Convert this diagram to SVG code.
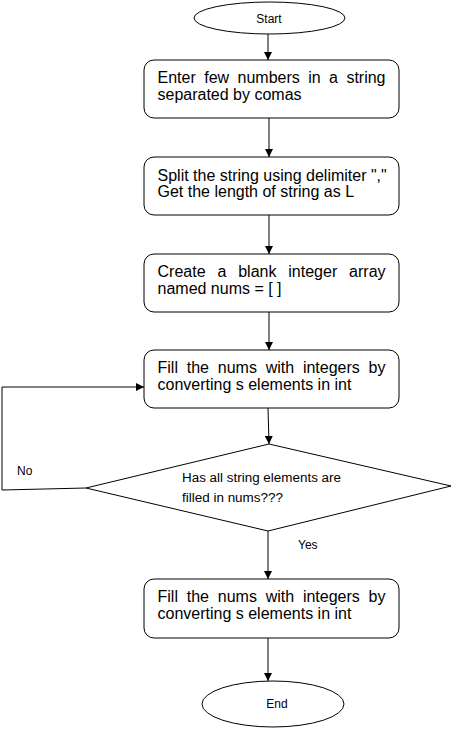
<svg xmlns="http://www.w3.org/2000/svg" width="454" height="729" viewBox="0 0 454 729">
<style>
.s{fill:#fff;stroke:#000;stroke-width:1}
.t{font-family:"Liberation Sans",Arial,sans-serif;font-size:16px;fill:#000}
.c{font-family:"Liberation Sans",Arial,sans-serif;font-size:12px;fill:#000}
.l{fill:none;stroke:#000;stroke-width:1}
</style>
<defs>
<marker id="a" viewBox="0 0 10 10" refX="10" refY="5" markerWidth="8" markerHeight="8" markerUnits="userSpaceOnUse" orient="auto">
<path d="M0,0 L10,5 L0,10 Z" fill="#000"/>
</marker>
</defs>
<rect width="454" height="729" fill="#fff"/>
<g id="connectors">
<line class="l" x1="268" y1="34" x2="268" y2="60" marker-end="url(#a)"/>
<line class="l" x1="269" y1="118" x2="269" y2="157" marker-end="url(#a)"/>
<line class="l" x1="269" y1="215" x2="269" y2="254" marker-end="url(#a)"/>
<line class="l" x1="269" y1="312" x2="269" y2="350" marker-end="url(#a)"/>
<line class="l" x1="268" y1="408" x2="269" y2="444" marker-end="url(#a)"/>
<polyline class="l" points="86,488 2,490 2,387 144,387" marker-end="url(#a)"/>
<line class="l" x1="268" y1="531" x2="268" y2="579" marker-end="url(#a)"/>
<line class="l" x1="268" y1="638" x2="268" y2="681" marker-end="url(#a)"/>
<text class="c" x="17" y="475">No</text>
<text class="c" x="298" y="549">Yes</text>
</g>
<g id="start">
<ellipse class="s" cx="269.5" cy="18" rx="75.5" ry="16"/>
<text class="c" x="269" y="23" text-anchor="middle">Start</text>
</g>
<g id="input">
<rect class="s" x="144" y="60" width="255" height="58" rx="10"/>
<text class="t" y="83"><tspan x="157.5">Enter</tspan><tspan x="204.2">few</tspan><tspan x="237.5">numbers</tspan><tspan x="308.2">in</tspan><tspan x="329.1">a</tspan><tspan x="346.4">string</tspan></text>
<text class="t" x="157.5" y="99.5">separated by comas</text>
</g>
<g id="split">
<rect class="s" x="144" y="157" width="255" height="58" rx="10"/>
<text class="t" x="157.5" y="180.5">Split the string using delimiter ","</text>
<text class="t" x="157.5" y="197">Get the length of string as L</text>
</g>
<g id="create">
<rect class="s" x="144" y="254" width="255" height="58" rx="10"/>
<text class="t" y="276.5"><tspan x="157.5">Create</tspan><tspan x="217.4">a</tspan><tspan x="238.2">blank</tspan><tspan x="288.3">integer</tspan><tspan x="349.1">array</tspan></text>
<text class="t" x="157.5" y="293.5">named nums = [ ]</text>
</g>
<g id="fill1">
<rect class="s" x="144" y="350" width="255" height="58" rx="10"/>
<text class="t" y="372.5"><tspan x="157.5">Fill</tspan><tspan x="186.7">the</tspan><tspan x="217.8">nums</tspan><tspan x="265.7">with</tspan><tspan x="302.9">integers</tspan><tspan x="368.6">by</tspan></text>
<text class="t" x="157.5" y="389.5">converting s elements in int</text>
</g>
<g id="check">
<polygon class="s" points="269,444 451,486 268,531 86,488"/>
<text class="c" x="182" y="482" textLength="159" lengthAdjust="spacingAndGlyphs">Has all string elements are</text>
<text class="c" x="182" y="502" textLength="101" lengthAdjust="spacingAndGlyphs">filled in nums???</text>
</g>
<g id="fill2">
<rect class="s" x="144" y="579" width="255" height="59" rx="10"/>
<text class="t" y="601.5"><tspan x="157.5">Fill</tspan><tspan x="186.7">the</tspan><tspan x="217.8">nums</tspan><tspan x="265.7">with</tspan><tspan x="302.9">integers</tspan><tspan x="368.6">by</tspan></text>
<text class="t" x="157.5" y="618.5">converting s elements in int</text>
</g>
<g id="end">
<ellipse class="s" cx="273" cy="704" rx="71" ry="23"/>
<text class="c" x="277" y="708" text-anchor="middle">End</text>
</g>
</svg>
